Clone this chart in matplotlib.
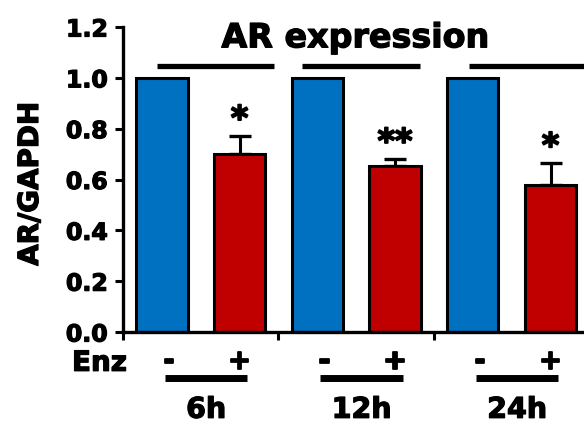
import matplotlib
matplotlib.use('Agg')
import matplotlib.pyplot as plt
from matplotlib import transforms
import matplotlib.patheffects as pe

# data
groups = ['6h', '12h', '24h']
treat = ['-', '+']
control = [1.0, 1.0, 1.0]
enz = [0.70, 0.655, 0.578]
enz_err = [0.07, 0.025, 0.085]
stars = ['*', '**', '*']

blue = '#0070C0'
red = '#C00000'

plt.rcParams['font.family'] = ['DejaVu Sans']
plt.rcParams['font.weight'] = 'bold'

# a bit heavier than plain bold, like the original
heavy = [pe.withStroke(linewidth=0.9, foreground='black')]
star_fx = [pe.withStroke(linewidth=1.3, foreground='black')]

fig = plt.figure(figsize=(5.84, 4.28), dpi=100)
ax = fig.add_axes([123 / 584, 96 / 428, 1 - 123 / 584, 305 / 428])

xc = [2 * i for i in range(len(groups))]
xe = [2 * i + 1 for i in range(len(groups))]
ax.bar(xc, control, width=0.66, color=blue, edgecolor='black', linewidth=2.2, zorder=2)
ax.bar(xe, enz, width=0.66, color=red, edgecolor='black', linewidth=2.2, zorder=2)
ax.errorbar(xe, enz, yerr=[[0] * len(enz), enz_err], fmt='none', ecolor='black',
            elinewidth=2.2, capsize=8, capthick=2.4, zorder=1)

for x, v, e, s in zip(xe, enz, enz_err, stars):
    ax.annotate(s, (x, v + e), xytext=(0, 5), textcoords='offset points',
                ha='center', va='baseline', fontsize=24, fontweight='bold',
                path_effects=star_fx)

# lines over the groups
for x0, x1 in [(-0.06, 1.44), (1.80, 3.32), (3.95, 5.7)]:
    ax.plot([x0, x1], [1.047, 1.047], color='black', lw=3.8, clip_on=False,
            solid_capstyle='butt')

ax.set_xlim(-0.5, 5.43)
ax.set_ylim(0, 1.2)
ax.set_yticks([0, 0.2, 0.4, 0.6, 0.8, 1.0, 1.2])
ax.set_yticklabels(['0.0', '0.2', '0.4', '0.6', '0.8', '1.0', '1.2'])
ax.set_xticks([-0.5, 1.5, 3.5])
ax.set_xticklabels([])
ax.tick_params(axis='y', labelsize=17, width=2.2, length=6, pad=5)
ax.tick_params(axis='x', width=2.2, length=6)
for lab in ax.get_yticklabels():
    lab.set_fontweight('bold')
    lab.set_path_effects(heavy)
for sp in ['top', 'right']:
    ax.spines[sp].set_visible(False)
for sp in ['left', 'bottom']:
    ax.spines[sp].set_linewidth(2.4)

ax.text(2.49, 1.12, 'AR expression', ha='center', va='baseline',
        fontsize=24, fontweight='bold', path_effects=heavy)
fig.text(30 / 584, 1 - 184 / 428, 'AR/GAPDH', rotation=90, ha='center',
         va='center', fontsize=20, fontweight='bold', path_effects=heavy)

# labels under the axis
tr = transforms.blended_transform_factory(ax.transData, ax.transAxes)
ax.text(-0.45, -0.101, 'Enz', transform=tr, ha='right', va='center',
        fontsize=20, fontweight='bold', path_effects=heavy)
for i, g in enumerate(groups):
    ax.text(xc[i] + 0.09, -0.095, treat[0], transform=tr, ha='center',
            va='center', fontsize=20, fontweight='bold', path_effects=star_fx)
    ax.text(xe[i], -0.095, treat[1], transform=tr, ha='center',
            va='center', fontsize=20, fontweight='bold', path_effects=star_fx)
    ax.plot([xc[i] + 0.04, xc[i] + 1.1], [-0.151, -0.151], transform=tr,
            color='black', lw=5, clip_on=False, solid_capstyle='butt')
    ax.text(xc[i] + 0.57, -0.255, g, transform=tr, ha='center', va='center',
            fontsize=20.5, fontweight='bold', path_effects=heavy)

fig.savefig('out.png', dpi=100)
